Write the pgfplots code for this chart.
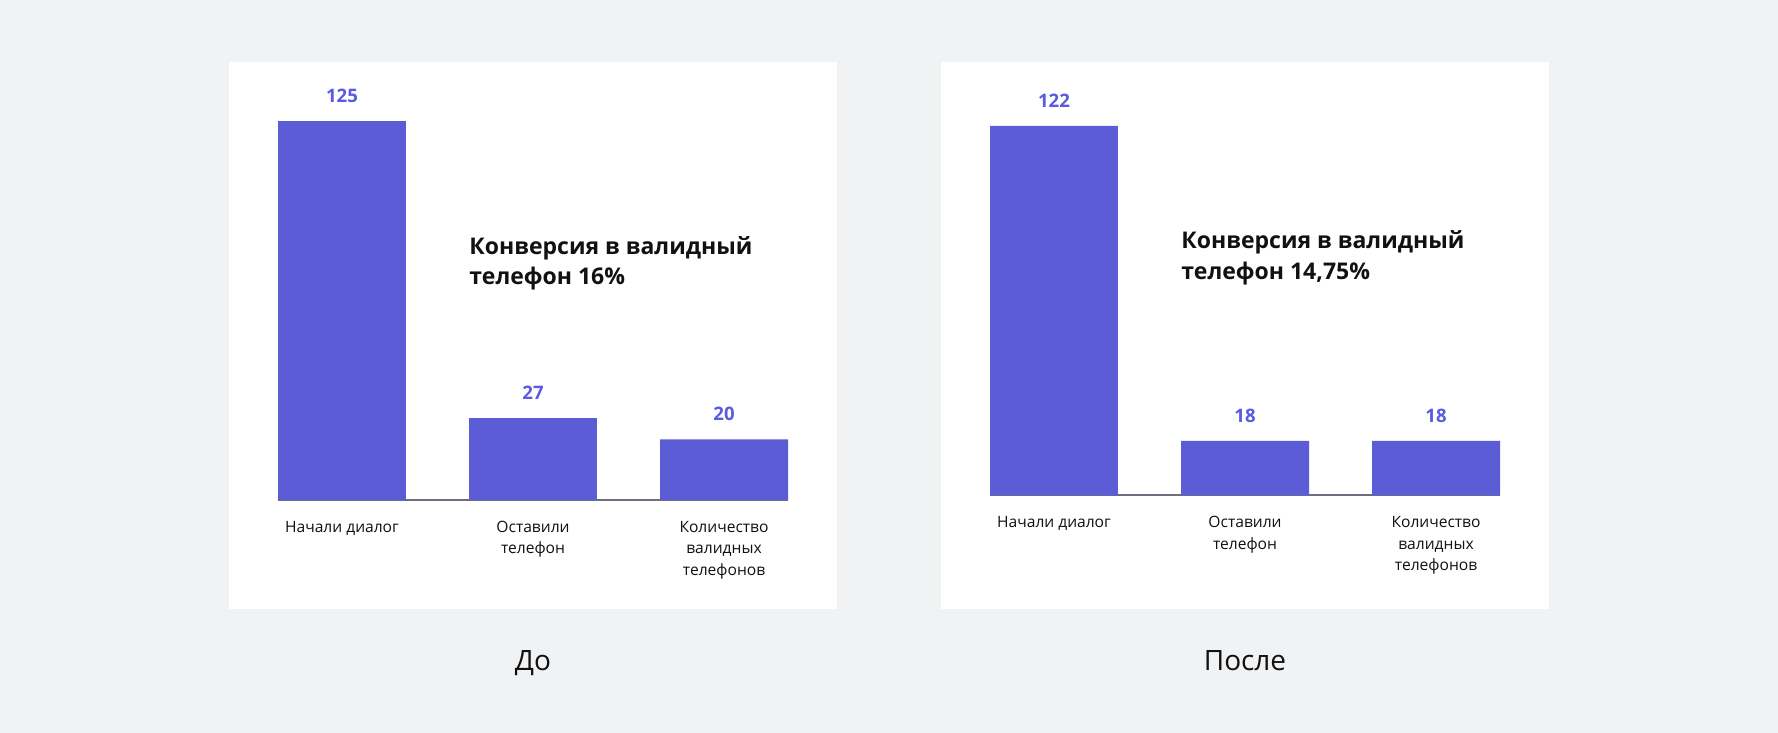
\documentclass[border=0pt]{standalone}
\usepackage{pgfplots}
\pgfplotsset{compat=1.18}
\usepackage{fontspec}
\setmainfont{Open Sans}
\definecolor{bgc}{HTML}{F1F2F4}
\definecolor{barc}{HTML}{5C5DD6}
\definecolor{valc}{HTML}{5A5AE2}
\definecolor{basec}{HTML}{6E6E7E}
\definecolor{txtc}{HTML}{111111}
\pgfplotsset{
  panel/.style={
    scale only axis, width=255pt, height=189.4pt,
    xmin=-0.335, xmax=2.335, ymin=0, ymax=125,
    axis x line*=bottom, axis y line=none,
    x axis line style={-, color=basec, line width=1pt},
    xtick={0,1,2}, ytick=\empty, major tick length=0pt,
    xticklabel style={align=center, anchor=north, yshift=-7pt, font=\fontsize{7.8}{10.75}\selectfont, text=txtc},
    clip=false,
    /pgf/number format/assume math mode=true,
    nodes near coords,
    every node near coord/.append style={font=\fontsize{9.3}{10}\selectfont\bfseries, text=valc, anchor=south, inner sep=0pt, yshift=9pt},
  }
}
\begin{document}
\begin{tikzpicture}
\fill[bgc] (0pt,0pt) rectangle (889pt,366.5pt);
\fill[white] (114.5pt,62pt) rectangle (418.5pt,335.5pt);
\fill[white] (470.5pt,62pt) rectangle (774.5pt,335.5pt);
\begin{axis}[panel, at={(139pt,116.5pt)}, anchor=south west,
  xticklabels={Начали диалог, {Оставили\\телефон}, {Количество\\валидных\\телефонов}}]
\addplot[ybar, bar width=0.67, fill=barc, draw=none] coordinates {(0,125) (1,27) (2,20)};
\node[anchor=base west, inner sep=0pt, font=\fontsize{11.5}{14}\selectfont\bfseries, text=txtc] at (axis cs:0.665,80.9) {Конверсия в валидный};
\node[anchor=base west, inner sep=0pt, font=\fontsize{11.5}{14}\selectfont\bfseries, text=txtc] at (axis cs:0.665,71.1) {телефон 16\%};
\end{axis}
\begin{axis}[panel, at={(495pt,118.75pt)}, anchor=south west,
  xticklabels={Начали диалог, {Оставили\\телефон}, {Количество\\валидных\\телефонов}}]
\addplot[ybar, bar width=0.67, fill=barc, draw=none] coordinates {(0,122) (1,18) (2,18)};
\node[anchor=base west, inner sep=0pt, font=\fontsize{11.5}{14}\selectfont\bfseries, text=txtc] at (axis cs:0.665,81.5) {Конверсия в валидный};
\node[anchor=base west, inner sep=0pt, font=\fontsize{11.5}{14}\selectfont\bfseries, text=txtc] at (axis cs:0.665,71.4) {телефон 14,75\%};
\end{axis}
\node[anchor=base, inner sep=0pt, font=\fontsize{14}{16}\selectfont, text=txtc] at (266.5pt,31.25pt) {До};
\node[anchor=base, inner sep=0pt, font=\fontsize{14}{16}\selectfont, text=txtc] at (622.5pt,31.25pt) {После};
\end{tikzpicture}
\end{document}
